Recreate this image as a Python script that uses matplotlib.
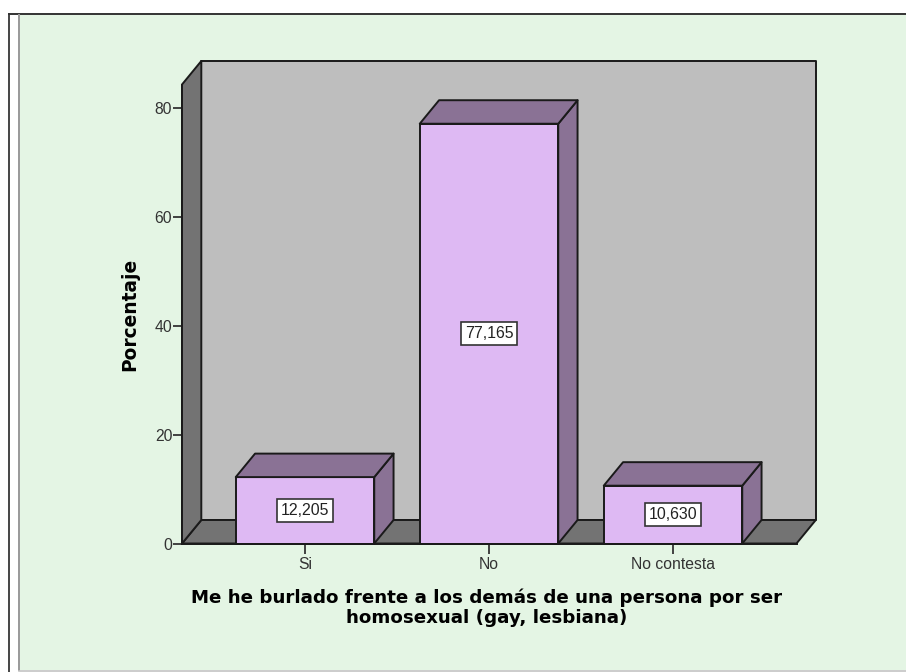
import matplotlib
matplotlib.use("Agg")
import matplotlib.pyplot as plt
from matplotlib.patches import Polygon, Rectangle
from matplotlib.lines import Line2D

categories = ["Si", "No", "No contesta"]
values = [12.205, 77.165, 10.630]
labels = ["12,205", "77,165", "10,630"]
yticks = [0, 20, 40, 60, 80]

W, H = 906, 672
GREEN, WALL, DARK = "#E4F5E4", "#BEBEBE", "#737373"
FRONT, SIDE, EDGE = "#DEB9F3", "#8A7295", "#1a1a1a"

fig = plt.figure(figsize=(W / 100, H / 100), dpi=100, facecolor="white")

def fx(x): return x / W
def fy(y): return 1 - y / H

# outer frame
fig.add_artist(Rectangle((fx(19), fy(670)), fx(W - 19), fy(15) - fy(670),
                         transform=fig.transFigure, fc=GREEN, ec="none", zorder=-5))
for xs, ys, c, lw in [((9, 9), (14, 672), "#444444", 1.4),
                      ((9, W), (14, 14), "#333333", 1.4),
                      ((18.5, 18.5), (15, 670), "#999999", 1.4),
                      ((19, W), (670.5, 670.5), "#C4C4C4", 1.2)]:
    fig.add_artist(Line2D([fx(v) for v in xs], [fy(v) for v in ys],
                          transform=fig.transFigure, color=c, lw=lw, zorder=-4))

L, R, T, B = 182, 796.5, 84.5, 543.5
ax = fig.add_axes([fx(L), fy(B), fx(R) - fx(L), fy(T) - fy(B)])
ax.patch.set_visible(False)
unit_x = 184.0
unit_y = 5.44
x0 = (L - 305) / unit_x
x1 = (R - 305) / unit_x
ymax = (B - T) / unit_y
ax.set_xlim(x0, x1)
ax.set_ylim(0, ymax)
dx = 19.3 / unit_x
dy = 23.5 / unit_y
bw = 138.5 / unit_x
lw = 1.4

def poly(pts, fc, z=1):
    ax.add_patch(Polygon(pts, closed=True, fc=fc, ec=EDGE, lw=lw, zorder=z,
                         clip_on=False, joinstyle="round"))

poly([(x0 + dx, dy), (x1 + dx, dy), (x1 + dx, ymax + dy), (x0 + dx, ymax + dy)], WALL)
poly([(x0, 0), (x1, 0), (x1 + dx, dy), (x0 + dx, dy)], DARK)
poly([(x0, 0), (x0 + dx, dy), (x0 + dx, ymax + dy), (x0, ymax)], DARK)

for i, (v, lab) in enumerate(zip(values, labels)):
    a, b = i - bw / 2, i + bw / 2
    poly([(a, 0), (b, 0), (b, v), (a, v)], FRONT, 3)
    poly([(b, 0), (b + dx, dy), (b + dx, v + dy), (b, v)], SIDE, 3)
    poly([(a, v), (b, v), (b + dx, v + dy), (a + dx, v + dy)], SIDE, 3)
    ax.text(i, v / 2, lab, ha="center", va="center", fontsize=11.4,
            family="Liberation Sans", color="#222222", zorder=5,
            bbox=dict(boxstyle="square,pad=0.25", fc="white", ec="#333333", lw=1.2))

for s in ("top", "right"):
    ax.spines[s].set_visible(False)
for s in ("left", "bottom"):
    ax.spines[s].set_linewidth(lw)
    ax.spines[s].set_color(EDGE)
    ax.spines[s].set_zorder(6)

ax.set_xticks(range(len(categories)))
ax.set_xticklabels(categories, family="Liberation Sans", fontsize=11.3, color="#333333")
ax.set_yticks(yticks)
ax.set_yticklabels([str(t) for t in yticks], family="Liberation Sans", fontsize=11.3, color="#333333")
ax.tick_params(axis="x", length=7.2, width=1.3, color="#333333", pad=2.5)
ax.tick_params(axis="y", length=6.5, width=1.3, color="#333333", pad=0.5)

fig.text(fx(130), fy(314.5), "Porcentaje", rotation=90, ha="center", va="center",
         family="DejaVu Sans", weight="bold", fontsize=13.4, color="black")
fig.text(fx(487), fy(608), "Me he burlado frente a los demás de una persona por ser\nhomosexual (gay, lesbiana)",
         ha="center", va="center", family="DejaVu Sans", weight="bold", fontsize=13.15,
         color="black", linespacing=1.14)

fig.savefig("out.png", dpi=100, facecolor="white")
